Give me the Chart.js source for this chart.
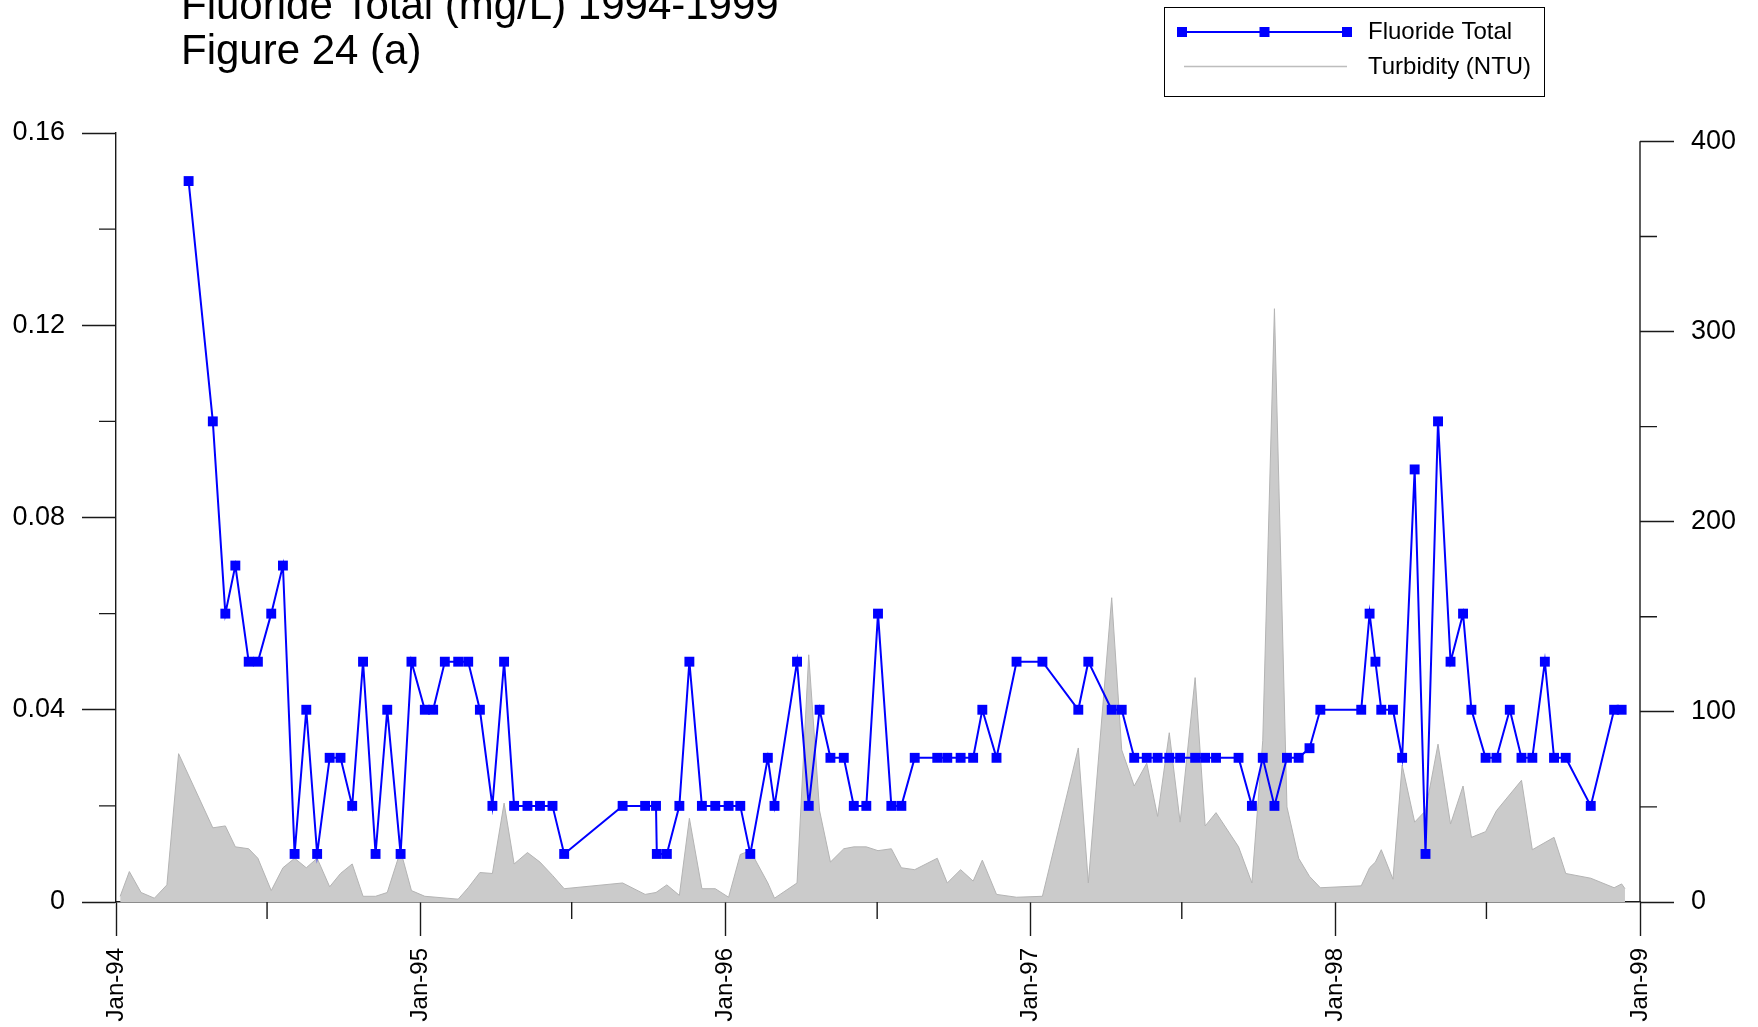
<!DOCTYPE html>
<html lang="en">
  <head>
    <meta charset="UTF-8" />
    <title>Fluoride Total (mg/L) 1994-1999</title>
    <script src="https://cdn.jsdelivr.net/npm/chart.js"></script>
    <style>
      html, body { margin: 0; padding: 0; background: #fff; }
      canvas { display: block; }
    </style>
  </head>
  <body>
    <canvas id="fluorideChart" width="1758" height="1027"></canvas>
    <script>
      // Fluoride Total (mg/L), sample dates
      const fluorideDates = [
        "1994-03-29", "1994-04-27", "1994-05-12", "1994-05-24", "1994-06-09", "1994-06-20",
        "1994-07-06", "1994-07-20", "1994-08-03", "1994-08-17", "1994-08-30", "1994-09-14",
        "1994-09-27", "1994-10-11", "1994-10-24", "1994-11-08", "1994-11-22", "1994-12-08",
        "1994-12-21", "1995-01-06", "1995-01-16", "1995-01-30", "1995-02-15", "1995-02-27",
        "1995-03-13", "1995-03-28", "1995-04-11", "1995-04-23", "1995-05-09", "1995-05-24",
        "1995-06-08", "1995-06-22", "1995-08-31", "1995-09-27", "1995-10-10", "1995-10-11",
        "1995-10-23", "1995-11-07", "1995-11-19", "1995-12-04", "1995-12-20", "1996-01-05",
        "1996-01-19", "1996-01-31", "1996-02-21", "1996-02-29", "1996-03-27", "1996-04-10",
        "1996-04-23", "1996-05-06", "1996-05-22", "1996-06-03", "1996-06-18", "1996-07-02",
        "1996-07-18", "1996-07-30", "1996-08-15", "1996-09-11", "1996-09-23", "1996-10-09",
        "1996-10-24", "1996-11-04", "1996-11-21", "1996-12-15", "1997-01-15", "1997-02-27",
        "1997-03-11", "1997-04-08", "1997-04-20", "1997-05-05", "1997-05-20", "1997-06-02",
        "1997-06-16", "1997-06-29", "1997-07-17", "1997-07-29", "1997-08-11", "1997-09-07",
        "1997-09-23", "1997-10-06", "1997-10-20", "1997-11-04", "1997-11-18", "1997-12-01",
        "1997-12-14", "1998-02-01", "1998-02-11", "1998-02-18", "1998-02-25", "1998-03-11",
        "1998-03-22", "1998-04-06", "1998-04-19", "1998-05-04", "1998-05-19", "1998-06-03",
        "1998-06-13", "1998-06-30", "1998-07-13", "1998-07-29", "1998-08-12", "1998-08-25",
        "1998-09-09", "1998-09-20", "1998-10-04", "1998-11-03", "1998-12-01", "1998-12-10",
      ]
      const fluorideValues = [
        0.15, 0.10, 0.06, 0.07, 0.05, 0.05,
        0.06, 0.07, 0.01, 0.04, 0.01, 0.03,
        0.03, 0.02, 0.05, 0.01, 0.04, 0.01,
        0.05, 0.04, 0.04, 0.05, 0.05, 0.05,
        0.04, 0.02, 0.05, 0.02, 0.02, 0.02,
        0.02, 0.01, 0.02, 0.02, 0.02, 0.01,
        0.01, 0.02, 0.05, 0.02, 0.02, 0.02,
        0.02, 0.01, 0.03, 0.02, 0.05, 0.02,
        0.04, 0.03, 0.03, 0.02, 0.02, 0.06,
        0.02, 0.02, 0.03, 0.03, 0.03, 0.03,
        0.03, 0.04, 0.03, 0.05, 0.05, 0.04,
        0.05, 0.04, 0.04, 0.03, 0.03, 0.03,
        0.03, 0.03, 0.03, 0.03, 0.03, 0.03,
        0.02, 0.03, 0.02, 0.03, 0.03, 0.032,
        0.04, 0.04, 0.06, 0.05, 0.04, 0.04,
        0.03, 0.09, 0.01, 0.10, 0.05, 0.06,
        0.04, 0.03, 0.03, 0.04, 0.03, 0.03,
        0.05, 0.03, 0.03, 0.02, 0.04, 0.04,
      ]

      // Turbidity (NTU), right axis
      const turbidityDates = [
        "1994-01-06", "1994-01-17", "1994-01-31", "1994-02-16", "1994-03-03", "1994-03-17",
        "1994-04-27", "1994-05-12", "1994-05-24", "1994-06-09", "1994-06-20", "1994-07-06",
        "1994-07-20", "1994-08-03", "1994-08-17", "1994-08-30", "1994-09-14", "1994-09-27",
        "1994-10-11", "1994-10-24", "1994-11-08", "1994-11-22", "1994-12-08", "1994-12-21",
        "1995-01-06", "1995-02-15", "1995-02-27", "1995-03-13", "1995-03-28", "1995-04-11",
        "1995-04-23", "1995-05-09", "1995-05-24", "1995-06-08", "1995-06-22", "1995-08-31",
        "1995-09-27", "1995-10-10", "1995-10-23", "1995-11-07", "1995-11-19", "1995-12-04",
        "1995-12-20", "1996-01-05", "1996-01-19", "1996-01-31", "1996-02-21", "1996-02-29",
        "1996-03-27", "1996-04-10", "1996-04-23", "1996-05-06", "1996-05-22", "1996-06-03",
        "1996-06-18", "1996-07-02", "1996-07-18", "1996-07-30", "1996-08-15", "1996-09-11",
        "1996-09-23", "1996-10-09", "1996-10-24", "1996-11-04", "1996-11-21", "1996-12-15",
        "1997-01-15", "1997-02-27", "1997-03-11", "1997-04-08", "1997-04-20", "1997-05-05",
        "1997-05-20", "1997-06-02", "1997-06-16", "1997-06-29", "1997-07-17", "1997-07-29",
        "1997-08-11", "1997-09-07", "1997-09-23", "1997-10-06", "1997-10-20", "1997-11-04",
        "1997-11-18", "1997-12-01", "1997-12-14", "1998-02-01", "1998-02-11", "1998-02-18",
        "1998-02-25", "1998-03-11", "1998-03-22", "1998-04-06", "1998-04-19", "1998-05-04",
        "1998-05-19", "1998-06-03", "1998-06-13", "1998-06-30", "1998-07-13", "1998-08-12",
        "1998-08-25", "1998-09-20", "1998-10-04", "1998-11-03", "1998-12-01", "1998-12-10",
        "1998-12-14",
      ]
      const turbidityValues = [
        3, 16, 5, 2, 9, 78,
        39, 40, 29, 28, 23, 6,
        18, 23, 18, 23, 8, 15,
        20, 3, 3, 5, 27, 6,
        3, 1.5, 7.5, 15.5, 15, 52,
        20, 26, 21, 14, 7, 10,
        4, 5, 9, 3.5, 44, 7,
        7, 2.5, 25, 27, 10, 2,
        10, 130, 48, 21, 28, 29,
        29, 27, 28, 18, 17, 23,
        10, 17, 11, 22, 4, 2.5,
        3, 81, 10, 160, 80, 61,
        73, 45, 89, 42, 118, 40,
        47, 29, 10, 85, 312, 50,
        23, 13.5, 7.5, 8.5, 18, 21,
        27.5, 12, 72, 42, 48, 83,
        41, 61, 34, 37, 48, 64,
        27.5, 34, 15, 12.5, 7.5, 9.5,
        7,
      ]

      // Axes
      const yearTicks = [1994, 1995, 1996, 1997, 1998, 1999]
      const leftTicks = [0, 0.04, 0.08, 0.12, 0.16]
      const leftMinorTicks = [0.02, 0.06, 0.1, 0.14]
      const rightTicks = [0, 100, 200, 300, 400]
      const rightMinorTicks = [50, 150, 250, 350]

      const FONT = '"Liberation Sans", Arial, Helvetica, sans-serif'
      const BLUE = "#0000ff"
      const AXIS = "#1a1a1a"

      function toPoints(dates, values) {
        return dates.map((d, i) => ({ x: Date.parse(d), y: values[i] }))
      }

      function setTicks(values) {
        return (scale) => {
          scale.ticks = values.map((v) => ({ value: v }))
        }
      }

      const paper = {
        id: "paper",
        beforeDraw(chart) {
          const ctx = chart.ctx
          ctx.save()
          ctx.fillStyle = "#fff"
          ctx.fillRect(0, 0, chart.width, chart.height)
          ctx.restore()
        },
      }

      // minor ticks, right axis line, title and legend box
      const extras = {
        id: "extras",
        afterDraw(chart) {
          const ctx = chart.ctx
          const { x, y, y2 } = chart.scales
          const area = chart.chartArea
          ctx.save()
          ctx.strokeStyle = AXIS
          ctx.lineWidth = 1.4

          ctx.beginPath()
          ctx.moveTo(area.right, y2.getPixelForValue(0))
          ctx.lineTo(area.right, y2.getPixelForValue(400))
          leftMinorTicks.forEach((v) => {
            const py = y.getPixelForValue(v)
            ctx.moveTo(area.left, py)
            ctx.lineTo(area.left - 17, py)
          })
          rightMinorTicks.forEach((v) => {
            const py = y2.getPixelForValue(v)
            ctx.moveTo(area.right, py)
            ctx.lineTo(area.right + 17, py)
          })
          yearTicks.slice(0, -1).forEach((yr) => {
            const px = x.getPixelForValue(Date.UTC(yr, 6, 1))
            ctx.moveTo(px, area.bottom)
            ctx.lineTo(px, area.bottom + 17)
          })
          ctx.stroke()

          // title
          ctx.fillStyle = "#000"
          ctx.font = "42px " + FONT
          ctx.textBaseline = "alphabetic"
          ctx.textAlign = "left"
          ctx.fillText("Fluoride Total (mg/L) 1994-1999", 181, 19)
          ctx.fillText("Figure 24 (a)", 181, 64)

          // legend
          ctx.lineWidth = 1
          ctx.strokeStyle = "#000"
          ctx.strokeRect(1164.5, 7.5, 380, 89)

          ctx.strokeStyle = BLUE
          ctx.lineWidth = 2
          ctx.beginPath()
          ctx.moveTo(1182, 32)
          ctx.lineTo(1347, 32)
          ctx.stroke()
          ctx.fillStyle = BLUE
          ;[1182, 1264.5, 1347].forEach((mx) => ctx.fillRect(mx - 5, 27, 10, 10))

          ctx.strokeStyle = "#bdbdbd"
          ctx.lineWidth = 1.5
          ctx.beginPath()
          ctx.moveTo(1184, 66.5)
          ctx.lineTo(1347, 66.5)
          ctx.stroke()

          ctx.fillStyle = "#000"
          ctx.font = "24px " + FONT
          ctx.textBaseline = "middle"
          ctx.fillText("Fluoride Total", 1368, 32)
          ctx.fillText("Turbidity (NTU)", 1368, 67)
          ctx.restore()
        },
      }

      const ctx = document.getElementById("fluorideChart").getContext("2d")
      new Chart(ctx, {
        type: "line",
        data: {
          datasets: [
            {
              label: "Fluoride Total",
              data: toPoints(fluorideDates, fluorideValues),
              yAxisID: "y",
              borderColor: BLUE,
              borderWidth: 2,
              pointStyle: "rect",
              pointRadius: 7,
              pointBorderWidth: 0,
              pointBackgroundColor: BLUE,
              tension: 0,
              fill: false,
            },
            {
              label: "Turbidity (NTU)",
              data: toPoints(turbidityDates, turbidityValues),
              yAxisID: "y2",
              borderColor: "#b4b4b4",
              borderWidth: 1,
              backgroundColor: "#cbcbcb",
              pointRadius: 0,
              tension: 0,
              fill: "origin",
            },
          ],
        },
        options: {
          responsive: false,
          animation: false,
          layout: { padding: { top: 133, left: 0, right: 0, bottom: 0 } },
          plugins: {
            legend: { display: false },
            title: { display: false },
            tooltip: { enabled: false },
          },
          scales: {
            x: {
              type: "linear",
              min: Date.UTC(yearTicks[0], 0, 1),
              max: Date.UTC(yearTicks[yearTicks.length - 1], 0, 1),
              afterBuildTicks: (scale) => {
                scale.ticks = yearTicks.map((yr) => ({ value: Date.UTC(yr, 0, 1) }))
              },
              afterFit: (scale) => { scale.height = 125 },
              border: { color: AXIS, width: 1.4 },
              grid: {
                drawOnChartArea: false,
                tickLength: 34,
                tickColor: AXIS,
                tickWidth: 1.4,
              },
              ticks: {
                autoSkip: false,
                minRotation: 90,
                maxRotation: 90,
                padding: 12,
                color: "#000",
                font: { family: FONT, size: 24 },
                callback: (v) => "Jan-" + String(new Date(v).getUTCFullYear()).slice(2),
              },
            },
            y: {
              position: "left",
              min: 0,
              max: 0.16,
              afterBuildTicks: setTicks(leftTicks),
              afterFit: (scale) => { scale.width = 116 },
              border: { color: AXIS, width: 1.4 },
              grid: {
                drawOnChartArea: false,
                tickLength: 34,
                tickColor: AXIS,
                tickWidth: 1.4,
              },
              ticks: {
                padding: 17,
                color: "#000",
                font: { family: FONT, size: 27 },
                callback: (v) => (v === 0 ? "0" : v.toFixed(2)),
              },
            },
            y2: {
              position: "right",
              min: 0,
              max: 404.4,
              afterBuildTicks: setTicks(rightTicks),
              afterFit: (scale) => { scale.width = 118 },
              border: { display: false },
              grid: {
                drawOnChartArea: false,
                tickLength: 34,
                tickColor: AXIS,
                tickWidth: 1.4,
              },
              ticks: {
                padding: 17,
                color: "#000",
                font: { family: FONT, size: 27 },
                callback: (v) => String(v),
              },
            },
          },
        },
        plugins: [paper, extras],
      })
    </script>
  </body>
</html>
